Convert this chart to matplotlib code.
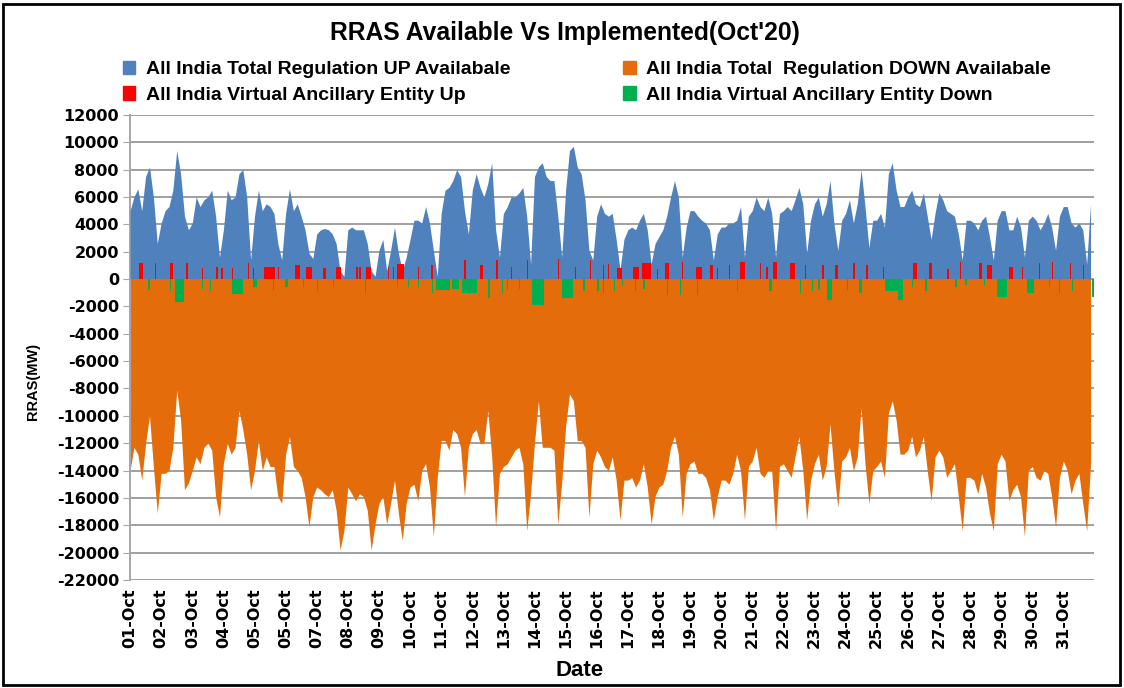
import numpy as np
import matplotlib
matplotlib.use('Agg')
from matplotlib import pyplot as plt
from matplotlib.patches import Patch, Rectangle

# 8 readings per day (every 3 hours), 01-Oct .. 31-Oct
blue_up = [
    5000, 6000, 6600, 5000, 7500, 8200, 6000, 2600,
    4100, 5000, 5300, 6500, 9400, 7700, 4600, 3600,
    4100, 6000, 5300, 5800, 6000, 6500, 4600, 1600,
    3600, 6500, 5800, 6000, 7700, 8000, 6000, 1400,
    4600, 6500, 5000, 5500, 5300, 4800, 2600, 1400,
    4800, 6600, 5000, 5500, 4600, 3600, 1900, 1500,
    3300, 3600, 3700, 3600, 3300, 2600, 600, 200,
    3600, 3800, 3600, 3600, 3600, 2600, 600, 200,
    2100, 2900, 600, 2100, 3800, 1900, 600, 1600,
    2900, 4300, 4300, 4100, 5300, 4100, 2100, 200,
    4800, 6500, 6700, 7200, 8000, 7500, 5000, 3300,
    6500, 7700, 6700, 6000, 7000, 8500, 3600, 1600,
    4800, 5300, 6000, 6000, 6300, 6700, 4600, 1100,
    7500, 8200, 8500, 7500, 7200, 7200, 4600, 1600,
    6500, 9400, 9700, 8200, 7700, 5800, 2100, 1400,
    4600, 5500, 4800, 4600, 4800, 2900, 700, 2900,
    3600, 3800, 3600, 4300, 4800, 3600, 1100, 2600,
    3100, 3600, 4600, 6000, 7200, 6000, 1600, 3800,
    5000, 5000, 4600, 4300, 4100, 3600, 1400, 3300,
    3800, 3800, 4100, 4100, 4300, 5300, 1600, 4600,
    5000, 6000, 5300, 5000, 6000, 4800, 1600, 4800,
    5000, 5300, 5000, 5800, 6700, 5500, 1900, 4300,
    5500, 6000, 4600, 5500, 7200, 4100, 2100, 4300,
    4800, 5800, 4100, 5500, 8000, 5300, 2300, 4300,
    4300, 4800, 3800, 7700, 8500, 6500, 5300, 5300,
    6000, 6500, 5500, 5300, 6300, 4600, 2900, 4800,
    6300, 5800, 5000, 4800, 4600, 3300, 1400, 4300,
    4300, 4100, 3600, 4300, 4600, 3100, 1400, 4300,
    5000, 5000, 3600, 3600, 4600, 3800, 1600, 4300,
    4600, 4300, 3600, 4100, 4800, 3800, 2100, 4600,
    5300, 5300, 4100, 3800, 4100, 3600, 1100, 5500,
]

orange_down = [
    -14000, -12300, -12800, -14700, -12000, -10000, -13700, -17100,
    -14200, -14200, -14000, -12300, -8100, -10300, -15400, -14900,
    -14000, -13000, -13500, -12300, -12000, -12500, -15900, -17400,
    -13500, -12000, -12800, -12300, -9600, -11000, -12800, -15400,
    -14000, -11800, -14000, -13000, -13700, -13700, -15900, -16400,
    -12800, -11500, -13700, -14000, -14500, -15900, -18100, -15900,
    -15200, -15400, -15700, -15900, -15400, -16900, -19800, -18400,
    -15200, -15700, -16200, -15700, -15900, -16900, -19800, -17900,
    -16400, -15900, -17900, -16400, -14700, -17100, -19100, -16400,
    -15200, -15000, -16200, -14000, -13500, -15200, -18800, -14500,
    -11800, -11800, -12500, -11000, -11300, -12300, -15900, -12300,
    -11300, -11000, -12000, -12000, -9600, -13000, -18100, -14200,
    -13700, -13500, -13000, -12500, -12300, -13500, -18400, -15700,
    -12000, -8900, -12300, -12300, -12300, -12500, -17900, -14900,
    -10800, -8400, -8900, -11800, -11800, -12300, -17400, -13500,
    -12500, -13000, -13700, -14000, -13000, -14700, -17600, -14700,
    -14700, -14500, -15200, -14700, -13500, -15200, -17900, -15900,
    -15200, -15000, -14000, -12300, -11500, -12800, -17400, -14200,
    -13500, -13300, -14200, -14200, -14500, -15400, -17600, -15900,
    -14700, -14700, -15000, -14200, -12800, -14000, -17600, -13700,
    -13300, -12300, -14200, -14500, -14000, -14000, -18400, -13700,
    -13500, -14000, -14500, -13000, -11500, -14000, -17600, -14700,
    -13500, -12800, -14700, -13700, -10600, -14000, -16700, -13300,
    -13000, -12300, -14000, -13000, -9400, -13500, -16400, -14000,
    -13700, -13300, -14500, -9800, -8900, -10300, -12800, -12800,
    -12500, -11500, -13000, -12500, -11500, -14000, -16200, -13000,
    -12500, -13000, -14500, -14000, -13500, -15900, -18400, -14500,
    -14500, -14700, -15700, -14200, -15200, -17100, -18400, -13500,
    -12800, -13300, -16200, -15400, -15000, -15900, -18800, -14000,
    -13700, -14500, -14700, -14000, -14200, -15900, -18100, -14500,
    -13300, -14000, -15700, -14700, -14200, -16400, -18400, -13500,
]

# VAE up: start hour (from 01-Oct 00:00), duration in hours, MW
red_start = [7, 19, 31, 43.5, 55.5, 66.6, 70.5, 78.7, 91, 95, 103, 114, 127, 136, 149,
             159, 174.6, 177, 182, 199, 203, 206, 222, 232.5, 258, 270, 282.7, 294, 306,
             330, 343, 354.7, 365, 369, 375.5, 388, 395, 406.4, 413, 425.7, 437, 447.5,
             452.7, 461.7, 470.7, 486, 491, 496, 509, 520.8, 533.7, 544, 558, 568, 581,
             604, 616, 630, 640.4, 654.6, 661, 678, 688, 700.9, 711, 725, 735]
red_len = [3, 1, 2, 1, 1, 1.5, 1, 1, 1, 0.5, 9, 1, 4, 4, 2,
           4, 1, 1, 4, 1, 1, 5, 1, 1, 1, 2, 1, 1, 1,
           1, 1, 1, 1, 0.5, 4, 5, 7, 1, 2.5, 1, 4, 2.5,
           1, 1, 4, 1, 1, 3, 4, 1, 1.5, 2.5, 1, 1, 1,
           3, 2.5, 1.5, 1, 2.5, 4, 3.5, 1, 1, 1, 1, 1]
red_mw = [1150, 1150, 1150, 1150, 800, 900, 800, 800, 1150, 800, 900, 900, 1000, 900, 800,
          900, 900, 900, 900, 900, 900, 1100, 900, 1000, 1400, 1000, 1400, 900, 1400,
          1500, 900, 1400, 1000, 1100, 800, 900, 1150, 700, 1150, 1250, 900, 1000,
          800, 1000, 1250, 1150, 900, 1250, 1150, 1000, 1000, 1000, 1150, 1000, 900,
          1150, 1150, 700, 1250, 1150, 1000, 900, 900, 1150, 1250, 1150, 1000]

# VAE down: start hour, duration in hours, MW
green_start = [14.1, 30.9, 35, 55.3, 61.7, 78.5, 95, 110, 119.6, 133.5, 144, 156.7, 181.3,
               205.8, 214.5, 222.2, 232.8, 236, 248, 256, 276.5, 286.8, 290.7, 299.7, 310,
               333, 349.8, 360, 365, 373, 379.4, 389.7, 396, 414, 424.4, 437.3, 468.2,
               492.6, 517, 526, 531, 537.6, 553, 562, 582.6, 592.6, 603, 613.5, 636.7,
               644.4, 658.5, 668.8, 692, 708.6, 716.4, 726.6, 742]
green_len = [1, 1, 7, 1, 1, 9, 3, 1, 2.5, 1, 1, 1, 1,
             1, 1, 1, 1, 11, 6, 12, 1, 1, 1, 1, 9,
             9, 1, 1.5, 1, 1, 1, 1, 1, 1, 1, 1, 1,
             2.5, 1, 1, 1, 4, 1, 2.5, 10, 4, 1, 1, 1,
             1, 1, 8, 5, 1, 1, 1, 2]
green_mw = [-800, -900, -1700, -700, -900, -1100, -600, -800, -550, -550, -900, -550, -1050,
            -550, -550, -550, -1050, -800, -700, -1050, -1400, -1050, -800, -700, -1900,
            -1400, -900, -900, -1050, -900, -450, -900, -700, -1200, -1200, -1200, -900,
            -900, -1050, -900, -800, -1500, -800, -1050, -900, -1500, -550, -900, -550,
            -450, -450, -1300, -1050, -550, -1050, -900, -1300]

tick_labels = ['01-Oct', '02-Oct', '03-Oct', '04-Oct', '05-Oct', '05-Oct', '07-Oct',
               '08-Oct', '09-Oct', '10-Oct', '11-Oct', '12-Oct', '13-Oct', '14-Oct',
               '15-Oct', '16-Oct', '17-Oct', '18-Oct', '19-Oct', '20-Oct', '21-Oct',
               '22-Oct', '23-Oct', '24-Oct', '25-Oct', '26-Oct', '27-Oct', '28-Oct',
               '29-Oct', '30-Oct', '31-Oct']

narrow = ['Liberation Sans', 'DejaVu Sans']
wide = ['DejaVu Sans']

c_blue = '#4F81BD'
c_orange = '#E46C0A'
c_red = '#FF0000'
c_green = '#00B050'

fig = plt.figure(figsize=(11.24, 6.88), dpi=100)
ax = fig.add_axes([0.1157, 0.157, 0.858, 0.676])

x = np.arange(len(blue_up)) / 8.0
ax.fill_between(x, 0, orange_down, color=c_orange, linewidth=0, zorder=2)
ax.fill_between(x, 0, blue_up, color=c_blue, linewidth=0, zorder=3)
ax.bar(np.array(red_start) / 24.0, red_mw, width=np.array(red_len) / 24.0,
       align='edge', color=c_red, linewidth=0, zorder=4)
ax.bar(np.array(green_start) / 24.0, green_mw, width=np.array(green_len) / 24.0,
       align='edge', color=c_green, linewidth=0, zorder=4)

ax.set_xlim(0, 31)
ax.set_ylim(-22000, 12000)
ax.set_yticks(np.arange(-22000, 12001, 2000))
ax.set_yticklabels([str(v) for v in range(-22000, 12001, 2000)],
                   family=wide, fontweight='bold', fontsize=11.5)
ax.set_xticks(np.arange(31))
ax.set_xticklabels(tick_labels, rotation=90, family=wide, fontweight='bold', fontsize=11.5)
ax.tick_params(axis='x', length=0, pad=6)
ax.tick_params(axis='y', length=5, color='#a6a6a6', pad=3)
ax.grid(axis='y', color='#a0a0a0', linewidth=1.4, zorder=1)
ax.set_axisbelow(True)
for side in ['top', 'right', 'bottom']:
    ax.spines[side].set_visible(False)
ax.spines['left'].set_color('#a6a6a6')
ax.spines['left'].set_linewidth(1.4)

ax.set_xlabel('Date', family=narrow, fontweight='bold', fontsize=16)
ax.xaxis.set_label_coords(0.466, -0.171)
ax.set_ylabel('RRAS(MW)', family=narrow, fontweight='bold', fontsize=10.5)
ax.yaxis.set_label_coords(-0.093, 0.426)

fig.text(0.503, 0.952, "RRAS Available Vs Implemented(Oct'20)", ha='center', va='center',
         family=narrow, fontweight='bold', fontsize=17.7)

leg_prop = {'family': narrow, 'weight': 'bold', 'size': 14}
leg_kw = dict(loc='upper left', frameon=False, prop=leg_prop, handlelength=0.65,
              handleheight=0.7, handletextpad=0.55, labelspacing=0.4, borderpad=0)
fig.legend([Patch(color=c_blue), Patch(color=c_red)],
           ['All India Total Regulation UP Availabale', 'All India Virtual Ancillary Entity Up'],
           bbox_to_anchor=(0.1005, 0.926), **leg_kw)
fig.legend([Patch(color=c_orange), Patch(color=c_green)],
           ['All India Total  Regulation DOWN Availabale', 'All India Virtual Ancillary Entity Down'],
           bbox_to_anchor=(0.5455, 0.926), **leg_kw)

fig.patches.append(Rectangle((0.003, 0.004), 0.993, 0.99, transform=fig.transFigure,
                             fill=False, edgecolor='black', linewidth=2))

plt.savefig('out.png', dpi=100)
